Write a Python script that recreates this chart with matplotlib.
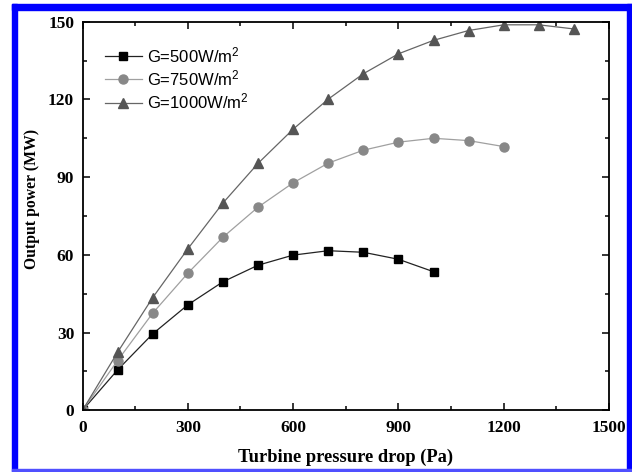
import numpy as np
import matplotlib.pyplot as plt
from matplotlib.patches import Rectangle

# data
p500 = [0, 100, 200, 300, 400, 500, 600, 700, 800, 900, 1000]
g500 = [0, 15.6, 29.5, 40.7, 49.6, 56.0, 59.9, 61.6, 61.0, 58.3, 53.5]

p750 = [0, 100, 200, 300, 400, 500, 600, 700, 800, 900, 1000, 1100, 1200]
g750 = [0, 19.2, 37.5, 52.9, 66.8, 78.4, 87.8, 95.4, 100.4, 103.5, 105.0, 104.1, 101.8]

p1000 = [0, 100, 200, 300, 400, 500, 600, 700, 800, 900, 1000, 1100, 1200, 1300, 1400]
g1000 = [0, 22.4, 43.5, 62.3, 80.0, 95.3, 108.5, 120.1, 129.9, 137.6, 142.8, 146.6, 148.8, 148.8, 147.2]

labels = ["G=500W/m$^2$", "G=750W/m$^2$", "G=1000W/m$^2$"]
xticks = [0, 300, 600, 900, 1200, 1500]
yticks = [0, 30, 60, 90, 120, 150]

W, H = 632, 472
fig = plt.figure(figsize=(W / 100, H / 100), dpi=100)
ax = fig.add_axes([82.5 / W, 1 - 410.3 / H, 526.5 / W, 388.6 / H])

ax.plot(p500, g500, color="#222222", lw=0.9, marker="s", ms=6,
        mfc="black", mec="black", label=labels[0])
ax.plot(p750, g750, color="#a0a0a0", lw=0.9, marker="o", ms=6.5,
        mfc="#888888", mec="#888888", label=labels[1])
ax.plot(p1000, g1000, color="#666666", lw=0.9, marker="^", ms=7.5,
        mfc="#555555", mec="#555555", label=labels[2])

ax.set_xlim(0, 1500)
ax.set_ylim(0, 150)
ax.set_xticks(xticks)
ax.set_yticks(yticks)
ax.set_xticks(np.arange(150, 1500, 300), minor=True)
ax.set_yticks(np.arange(15, 150, 30), minor=True)
ax.tick_params(which="both", direction="in", top=True, right=True, width=1.1)
ax.tick_params(which="major", length=5)
ax.tick_params(which="minor", length=3)
ax.tick_params(axis="x", pad=7)
ax.tick_params(axis="y", pad=6)
for s in ax.spines.values():
    s.set_linewidth(1.3)

tickfont = dict(family="Liberation Serif", weight="bold", size=12.5)
ax.set_xticklabels([str(t) for t in xticks], **tickfont)
ax.set_yticklabels([str(t) for t in yticks], **tickfont)

ax.set_xlabel("Turbine pressure drop (Pa)", family="Liberation Serif",
              weight="bold", size=13.3, va="center")
ax.xaxis.set_label_coords(0.5, -0.122)
ax.set_ylabel("Output power (MW)", family="Liberation Serif",
              weight="bold", size=11.3, va="center")
ax.yaxis.set_label_coords(-0.096, 0.544)

plt.rcParams["mathtext.default"] = "regular"
leg = ax.legend(loc="upper left", bbox_to_anchor=(0.043, 0.94), frameon=False,
                prop=dict(family="Liberation Sans", size=12),
                handlelength=2.2, handletextpad=0.3, labelspacing=0.2,
                borderpad=0, borderaxespad=0)

# blue frame around the picture
blue = "#0000ff"
fig.patches.append(Rectangle((12 / W, 0), 5 / W, 1 - 4 / H, color=blue,
                             transform=fig.transFigure, zorder=10))
fig.patches.append(Rectangle((12 / W, 1 - 10 / H), 1, 6 / H, color=blue,
                             transform=fig.transFigure, zorder=10))
fig.patches.append(Rectangle((627 / W, 0), 5 / W, 1 - 4 / H, color=blue,
                             transform=fig.transFigure, zorder=10))
fig.patches.append(Rectangle((12 / W, 1 / H), 1, 2 / H, color="#5050ff",
                             transform=fig.transFigure, zorder=10))

fig.savefig("out.png", dpi=100)
